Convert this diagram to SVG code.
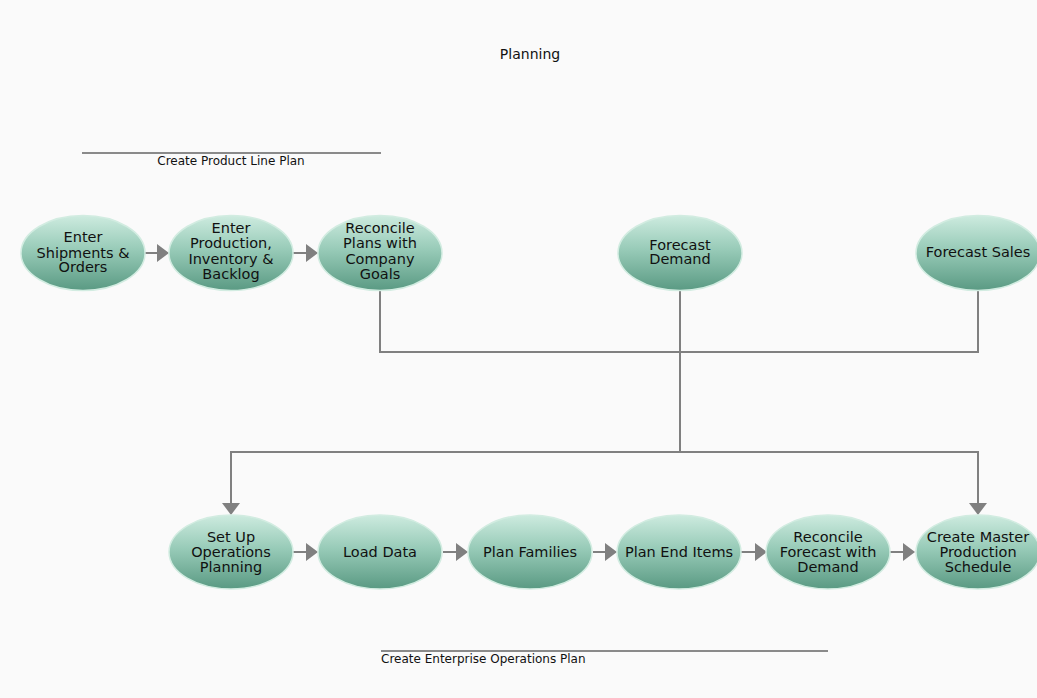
<svg xmlns="http://www.w3.org/2000/svg" width="1037" height="698" viewBox="0 0 1037 698">
<style>
.node{fill:url(#g);stroke:#d2ece1;stroke-width:1.5}
.lbl{font-family:"DejaVu Sans",Verdana,sans-serif;font-size:14.5px;fill:#111;text-anchor:middle}
.cap{font-family:"DejaVu Sans",Verdana,sans-serif;font-size:12px;fill:#111}
.conn{fill:none;stroke:#808080;stroke-width:2}
.rule{stroke:#8a8a8a;stroke-width:2}
</style>
<defs>
<linearGradient id="g" x1="0" y1="0" x2="0" y2="1">
<stop offset="0" stop-color="#cdebdf"/>
<stop offset="0.45" stop-color="#98cbb8"/>
<stop offset="1" stop-color="#5a9a83"/>
</linearGradient>
<marker id="ah" markerUnits="userSpaceOnUse" markerWidth="12" markerHeight="18" refX="0" refY="9" orient="auto" viewBox="0 0 12 18">
<path d="M0,0 L12,9 L0,18 z" fill="#808080"/>
</marker>
</defs>
<rect width="1037" height="698" fill="#fafafa"/>
<text x="530" y="59" class="lbl" style="font-size:14px">Planning</text>
<g id="lane-product">
<line x1="82" y1="153" x2="381" y2="153" class="rule"/>
<text x="231" y="165" class="cap" text-anchor="middle">Create Product Line Plan</text>
</g>
<g id="lane-enterprise">
<line x1="381" y1="651" x2="828" y2="651" class="rule"/>
<text x="381" y="663" class="cap">Create Enterprise Operations Plan</text>
</g>
<g id="connectors">
<path class="conn" d="M145,253 H157" marker-end="url(#ah)"/>
<path class="conn" d="M293,253 H306" marker-end="url(#ah)"/>
<path class="conn" d="M380,291 V352 H978 V291"/>
<path class="conn" d="M680,291 V452"/>
<path class="conn" d="M680,452 H231 V503" marker-end="url(#ah)"/>
<path class="conn" d="M680,452 H978 V503" marker-end="url(#ah)"/>
<path class="conn" d="M293,552 H306" marker-end="url(#ah)"/>
<path class="conn" d="M443,552 H456" marker-end="url(#ah)"/>
<path class="conn" d="M593,552 H605" marker-end="url(#ah)"/>
<path class="conn" d="M741,552 H755" marker-end="url(#ah)"/>
<path class="conn" d="M890,552 H903" marker-end="url(#ah)"/>
</g>
<g id="n-enter-shipments">
<ellipse cx="83" cy="253" rx="62" ry="37.5" class="node"/>
<text class="lbl"><tspan x="83" y="242">Enter</tspan><tspan x="83" y="258">Shipments &amp;</tspan><tspan x="83" y="272">Orders</tspan></text>
</g>
<g id="n-enter-production">
<ellipse cx="231" cy="253" rx="62" ry="37.5" class="node"/>
<text class="lbl"><tspan x="231" y="233">Enter</tspan><tspan x="231" y="248">Production,</tspan><tspan x="231" y="264">Inventory &amp;</tspan><tspan x="231" y="279">Backlog</tspan></text>
</g>
<g id="n-reconcile-plans">
<ellipse cx="380" cy="253" rx="62" ry="37.5" class="node"/>
<text class="lbl"><tspan x="380" y="233">Reconcile</tspan><tspan x="380" y="248">Plans with</tspan><tspan x="380" y="264">Company</tspan><tspan x="380" y="279">Goals</tspan></text>
</g>
<g id="n-forecast-demand">
<ellipse cx="680" cy="253" rx="62" ry="37.5" class="node"/>
<text class="lbl"><tspan x="680" y="250">Forecast</tspan><tspan x="680" y="264">Demand</tspan></text>
</g>
<g id="n-forecast-sales">
<ellipse cx="978" cy="253" rx="62" ry="37.5" class="node"/>
<text class="lbl" x="978" y="257">Forecast Sales</text>
</g>
<g id="n-setup">
<ellipse cx="231" cy="552" rx="62" ry="37" class="node"/>
<text class="lbl"><tspan x="231" y="542">Set Up</tspan><tspan x="231" y="557">Operations</tspan><tspan x="231" y="572">Planning</tspan></text>
</g>
<g id="n-load-data">
<ellipse cx="380" cy="552" rx="62" ry="37" class="node"/>
<text class="lbl" x="380" y="557">Load Data</text>
</g>
<g id="n-plan-families">
<ellipse cx="530" cy="552" rx="62" ry="37" class="node"/>
<text class="lbl" x="530" y="557">Plan Families</text>
</g>
<g id="n-plan-end-items">
<ellipse cx="679" cy="552" rx="62" ry="37" class="node"/>
<text class="lbl" x="679" y="557">Plan End Items</text>
</g>
<g id="n-reconcile-forecast">
<ellipse cx="828" cy="552" rx="62" ry="37" class="node"/>
<text class="lbl"><tspan x="828" y="542">Reconcile</tspan><tspan x="828" y="557">Forecast with</tspan><tspan x="828" y="572">Demand</tspan></text>
</g>
<g id="n-create-mps">
<ellipse cx="978" cy="552" rx="62" ry="37" class="node"/>
<text class="lbl"><tspan x="978" y="542">Create Master</tspan><tspan x="978" y="557">Production</tspan><tspan x="978" y="572">Schedule</tspan></text>
</g>
</svg>
